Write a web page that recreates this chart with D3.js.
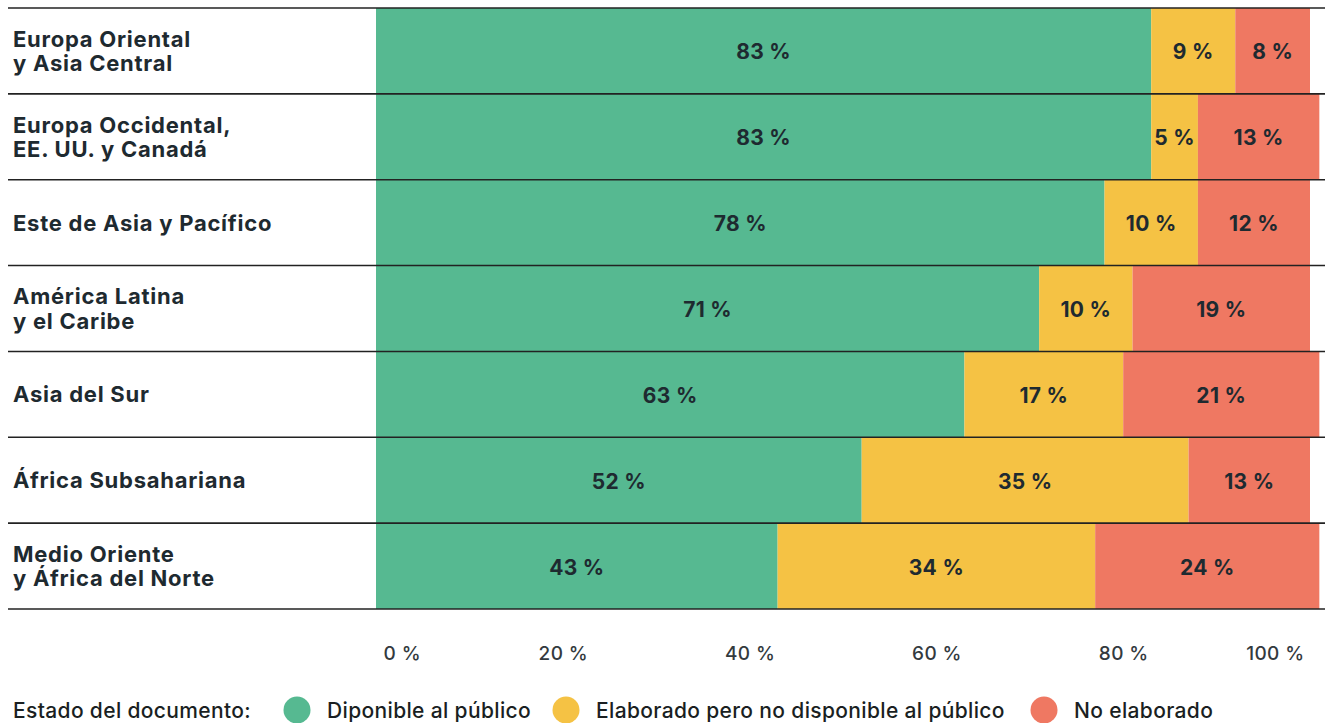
<!DOCTYPE html>
<html>
<head>
<meta charset="utf-8">
<script src="https://cdn.jsdelivr.net/npm/d3@7"></script>
<style>
  html, body { margin: 0; padding: 0; background: #fff; }
  svg { display: block; font-family: Inter, "Noto Sans", sans-serif; }
</style>
</head>
<body>
<svg id="chart" width="1325" height="723"></svg>
<script>
// Regions (two-line labels split with "\n")
const regions = [
  "Europa Oriental\ny Asia Central",
  "Europa Occidental,\nEE. UU. y Canadá",
  "Este de Asia y Pacífico",
  "América Latina\ny el Caribe",
  "Asia del Sur",
  "África Subsahariana",
  "Medio Oriente\ny África del Norte"
];
// Share of documents per status (%)
const disponible   = [83, 83, 78, 71, 63, 52, 43];
const elaborado    = [9, 5, 10, 10, 17, 35, 34];
const noElaborado  = [8, 13, 12, 19, 21, 13, 24];
const statusLabels = ["Diponible al público", "Elaborado pero no disponible al público", "No elaborado"];
const statusKeys   = ["disponible", "elaborado", "noElaborado"];
const tickValues   = [0, 20, 40, 60, 80, 100];

const colors = { disponible: "#56b991", elaborado: "#f5c244", noElaborado: "#ef7862" };
const textDark = "#1e2a30";

const svg = d3.select("#chart");
const W = 1325;
const plotLeft = 376, plotRight = 1310, plotTop = 8, plotBottom = 609;

const rows = regions.map((r, i) => ({
  region: r, disponible: disponible[i], elaborado: elaborado[i], noElaborado: noElaborado[i]
}));

const x = d3.scaleLinear().domain([0, 100]).range([plotLeft, plotRight]);
const y = d3.scaleBand().domain(regions).range([plotTop, plotBottom]).padding(0);

const stack = d3.stack().keys(statusKeys)(rows);

svg.append("defs").append("clipPath").attr("id", "plotClip")
  .append("rect").attr("x", plotLeft).attr("y", plotTop)
  .attr("width", W - plotLeft).attr("height", plotBottom - plotTop);

const bars = svg.append("g").attr("clip-path", "url(#plotClip)");
stack.forEach(layer => {
  const g = bars.append("g").attr("fill", colors[layer.key]);
  g.selectAll("rect").data(layer).join("rect")
    .attr("x", d => x(d[0]))
    .attr("y", d => y(d.data.region))
    .attr("width", d => x(d[1]) - x(d[0]))
    .attr("height", y.bandwidth());
});

// value labels centred in each segment
const labels = svg.append("g")
  .attr("font-weight", 700).attr("font-size", 21).attr("letter-spacing", 0.3)
  .attr("fill", textDark).attr("text-anchor", "middle");
stack.forEach(layer => {
  labels.append("g").selectAll("text").data(layer).join("text")
    .attr("x", d => (x(d[0]) + Math.min(x(d[1]), W)) / 2)
    .attr("y", d => y(d.data.region) + y.bandwidth() / 2 + 8.5)
    .text(d => (d[1] - d[0]) + " %");
});

// row separators
const seps = d3.range(regions.length + 1).map(i => plotTop + i * y.bandwidth());
svg.append("g").selectAll("line").data(seps).join("line")
  .attr("x1", 8).attr("x2", W)
  .attr("y1", d => d).attr("y2", d => d)
  .attr("stroke", "#222").attr("stroke-width", 1.6);

// region labels
const rl = svg.append("g").attr("font-weight", 700).attr("font-size", 22)
  .attr("letter-spacing", 0.75).attr("fill", textDark);
regions.forEach(r => {
  const lines = r.split("\n");
  const cy = y(r) + y.bandwidth() / 2;
  const lh = 24.5;
  const t = rl.append("text").attr("x", 13);
  lines.forEach((ln, j) => {
    t.append("tspan").attr("x", 13)
      .attr("y", cy + 8 + (j - (lines.length - 1) / 2) * lh)
      .text(ln);
  });
});

// x axis labels
const axis = d3.axisBottom(x).tickValues(tickValues).tickSize(0).tickPadding(0)
  .tickFormat(d => d + " %");
const ax = svg.append("g").attr("transform", "translate(0,660)").call(axis);
ax.select(".domain").remove();
ax.selectAll("text")
  .attr("dy", 0).attr("y", 0)
  .attr("font-family", "Inter, sans-serif").attr("font-size", 19).attr("font-weight", 500)
  .attr("letter-spacing", 0.4)
  .attr("fill", "#333a3e")
  .attr("text-anchor", d => d === 0 ? "start" : d === 100 ? "end" : "middle")
  .attr("dx", d => d === 0 ? 7 : d === 100 ? -6 : 0);

// legend
const leg = svg.append("g").attr("font-size", 21).attr("font-weight", 500)
  .attr("letter-spacing", 0.35).attr("fill", "#1a1f22");
leg.append("text").attr("x", 13).attr("y", 718).text("Estado del documento:");
const legX = [297, 566, 1044];
statusKeys.forEach((k, i) => {
  leg.append("circle").attr("cx", legX[i]).attr("cy", 710).attr("r", 13.5).attr("fill", colors[k]);
  leg.append("text").attr("x", legX[i] + 30).attr("y", 718).text(statusLabels[i]);
});
</script>
</body>
</html>
